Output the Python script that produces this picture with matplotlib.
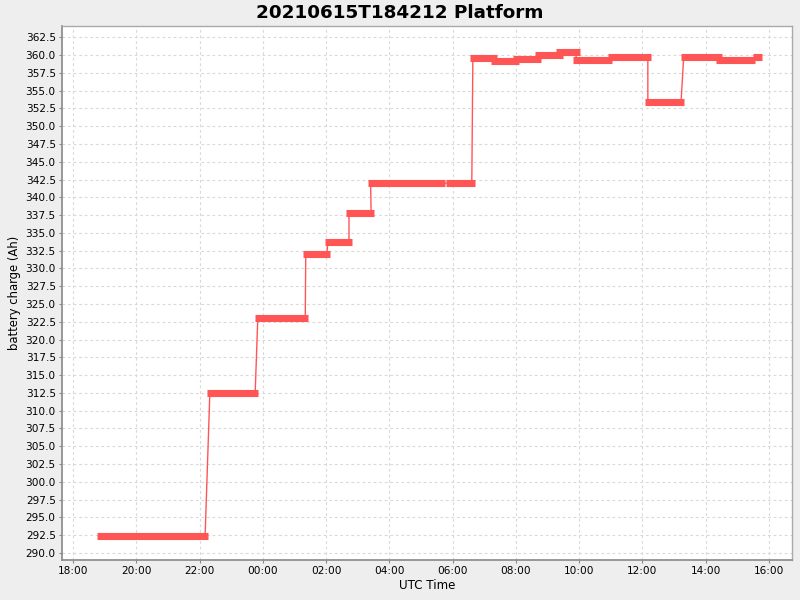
import datetime as dt
import numpy as np
import matplotlib
matplotlib.use("Agg")
import matplotlib.pyplot as plt
import matplotlib.dates as mdates

# niveaux de charge (debut, fin, valeur)
seg_start = ["18:45", "22:14", "23:45", "01:16", "01:58", "02:38", "03:19", "05:47",
             "06:33", "07:13", "07:54", "08:36", "09:16", "09:48", "10:55", "12:05",
             "13:13", "14:19", "15:30"]
seg_end = ["22:16", "23:51", "01:26", "02:07", "02:49", "03:31", "05:45", "06:42",
           "07:24", "08:06", "08:47", "09:29", "10:01", "11:02", "12:16", "13:19",
           "14:31", "15:33", "15:47"]
charge = [292.4, 312.5, 323.1, 332.1, 333.7, 337.8, 342.0, 342.0,
          359.6, 359.2, 359.4, 360.0, 360.5, 359.3, 359.7, 353.4,
          359.7, 359.3, 359.7]

yticks = np.arange(290.0, 362.6, 2.5)

day0 = dt.datetime(2021, 6, 15)


def to_time(hhmm):
    h, m = map(int, hhmm.split(":"))
    t = day0 + dt.timedelta(hours=h, minutes=m)
    if h < 18:
        t += dt.timedelta(days=1)
    return t


t_start = [to_time(s) for s in seg_start]
t_end = [to_time(s) for s in seg_end]

red = "#ff5555"
inset = dt.timedelta(minutes=5.5)

fig = plt.figure(figsize=(8, 6), dpi=100, facecolor="#eeeeee")
ax = fig.add_axes([62 / 800, 1 - 560 / 600, 730 / 800, 534 / 600])
ax.set_facecolor("white")

# ligne fine
lx, ly = [], []
for s, e, v in zip(t_start, t_end, charge):
    lx += [s + inset, e - inset]
    ly += [v, v]
ax.plot(lx, ly, color=red, lw=1.0, zorder=2)

# barres epaisses
for s, e, v in zip(t_start, t_end, charge):
    ax.plot([s, e], [v, v], color=red, lw=5.1, solid_capstyle="butt", zorder=3)

ax.set_xlim(day0 + dt.timedelta(hours=17, minutes=39),
            day0 + dt.timedelta(days=1, hours=16, minutes=44))
ax.set_ylim(289.0, 364.1)
ax.set_yticks(yticks)
ax.set_yticklabels(["%.1f" % v for v in yticks])
ax.xaxis.set_major_locator(mdates.HourLocator(byhour=range(0, 24, 2)))
ax.xaxis.set_major_formatter(mdates.DateFormatter("%H:%M"))

ax.grid(True, color="#d9d9d9", lw=0.8, linestyle=(0, (2.5, 2.5)))
ax.set_axisbelow(True)
ax.tick_params(labelsize=7.6, length=2.5, width=0.8, color="#888888", pad=2)

for side in ["left", "bottom"]:
    ax.spines[side].set_color("#888888")
    ax.spines[side].set_linewidth(1.2)
for side in ["top", "right"]:
    ax.spines[side].set_color("#aaaaaa")
    ax.spines[side].set_linewidth(1.0)

ax.set_xlabel("UTC Time", fontsize=8.6, labelpad=2)
ax.set_ylabel("battery charge (Ah)", fontsize=8.4, labelpad=3)
fig.suptitle("20210615T184212 Platform", fontsize=13.2, fontweight="bold", y=0.994, va="top")

fig.savefig("out.png", dpi=100, facecolor=fig.get_facecolor())
